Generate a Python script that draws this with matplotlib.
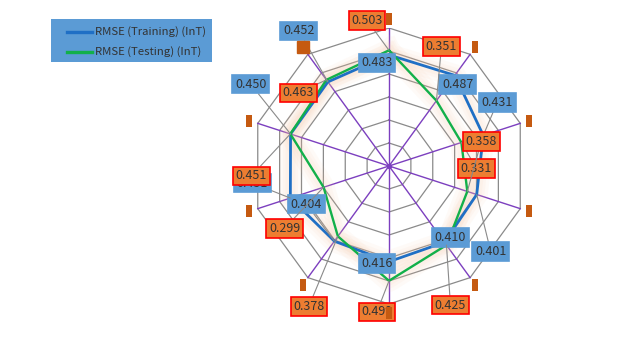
import numpy as np
import matplotlib
matplotlib.use("Agg")
import matplotlib.pyplot as plt
from matplotlib.lines import Line2D
from matplotlib.patches import Rectangle

plt.rcParams['font.family'] = ['Noto Sans CJK SC', 'DejaVu Sans']

# ---- data ----
series_names = ["RMSE (Training) (InT)", "RMSE (Testing) (InT)"]
training = [0.483, 0.487, 0.431, 0.401, 0.410, 0.416, 0.404, 0.451, 0.450, 0.452]
testing = [0.503, 0.351, 0.331, 0.358, 0.425, 0.499, 0.378, 0.299, 0.451, 0.463]
axis_max = 0.6
split_number = 6

# ---- label offsets (pixels, relative to point) ----
train_offsets = [(-12, -8), (3, -9), (14, 33), (14, -57), (6, 5),
                 (-12, -2), (-28, 37), (-38, 15), (-40, 50), (-29, 51)]
test_offsets = [(-22, 30), (5, 54), (15, -26), (14, 50), (4, -60),
                (-12, -31), (-29, -70), (-39, -41), (-39, -42), (-28, -13)]

W, H = 623, 338
cx, cy, R = 389, 166, 138
fig = plt.figure(figsize=(W / 100, H / 100), dpi=100)
ax = fig.add_axes([(cx - R) / W, (H - cy - R) / H, 2 * R / W, 2 * R / H])
ax.set_xlim(-axis_max, axis_max)
ax.set_ylim(-axis_max, axis_max)
ax.axis('off')

n = len(training)
theta = np.arange(n) * 2 * np.pi / n
theta_c = np.append(theta, theta[0])

# rings
for i in range(1, split_number + 1):
    r = axis_max * i / split_number
    ax.plot(r * np.sin(theta_c), r * np.cos(theta_c), color='#8a8a8a', lw=0.9, zorder=1)
# spokes
for t in theta:
    ax.plot([0, axis_max * np.sin(t)], [0, axis_max * np.cos(t)], color='#7c3fbf', lw=1.0, zorder=2)
ax.scatter([0], [0], s=8, color='#7c3fbf', zorder=2)

colors = ['#1f6fc5', '#12b04a']
lws = [2.0, 1.7]
for vals, col, lw in zip([training, testing], colors, lws):
    v = np.append(vals, vals[0])
    x = v * np.sin(theta_c)
    y = v * np.cos(theta_c)
    for gw in (16, 11, 7):
        ax.plot(x, y, color='#f6c3a0', lw=gw, alpha=0.08, solid_joinstyle='round', zorder=3)
for vals, col, lw in zip([training, testing], colors, lws):
    v = np.append(vals, vals[0])
    ax.plot(v * np.sin(theta_c), v * np.cos(theta_c), color=col, lw=lw, zorder=4)

# labels
def add_labels(vals, offsets, fc, ec, z):
    for v, t, (dx, dy) in zip(vals, theta, offsets):
        ax.annotate(f"{v:.3f}", xy=(v * np.sin(t), v * np.cos(t)), xytext=(dx, dy),
                    textcoords='offset pixels', ha='center', va='center',
                    fontsize=9, color='#333333', zorder=z, annotation_clip=False,
                    bbox=dict(boxstyle='square,pad=0.22', fc=fc, ec=ec, lw=1.2),
                    arrowprops=dict(arrowstyle='-', color='#8a8a8a', lw=0.8,
                                    shrinkA=0, shrinkB=0))

add_labels(training, train_offsets, '#5b9bd5', '#5b9bd5', 6)
add_labels(testing, test_offsets, '#ed7d31', '#ff0000', 7)

# axis name tags
tag_r = axis_max * 147 / R
tall = [(-0.5, -1), (0.5, -1), (0.5, 1), (-0.5, 1), (-0.5, -1)]
for i, t in enumerate(theta):
    if i == 9:
        ax.plot([tag_r * np.sin(t)], [tag_r * np.cos(t)], marker='s', ms=8,
                color='#c55a11', zorder=9, clip_on=False)
    else:
        ax.plot([tag_r * np.sin(t)], [tag_r * np.cos(t)], marker=tall, ms=8,
                color='#c55a11', mew=0, zorder=9, clip_on=False)

# legend (drawn in figure pixel fractions)
def fx(px):
    return px / W

def fy(py):
    return 1 - py / H

fig.patches.append(Rectangle((fx(51), fy(62)), fx(212) - fx(51), fy(19) - fy(62),
                             transform=fig.transFigure, fc='#5b9bd5', ec='none', zorder=0))
for i, (name, col) in enumerate(zip(series_names, colors)):
    yy = fy(32 + 20 * i)
    fig.add_artist(Line2D([fx(67), fx(92)], [yy, yy], color=col, lw=2.4,
                          transform=fig.transFigure))
    fig.text(fx(95), yy, name, fontsize=8.2, color='#333333', va='center', ha='left')

fig.savefig('out.png', dpi=100)
